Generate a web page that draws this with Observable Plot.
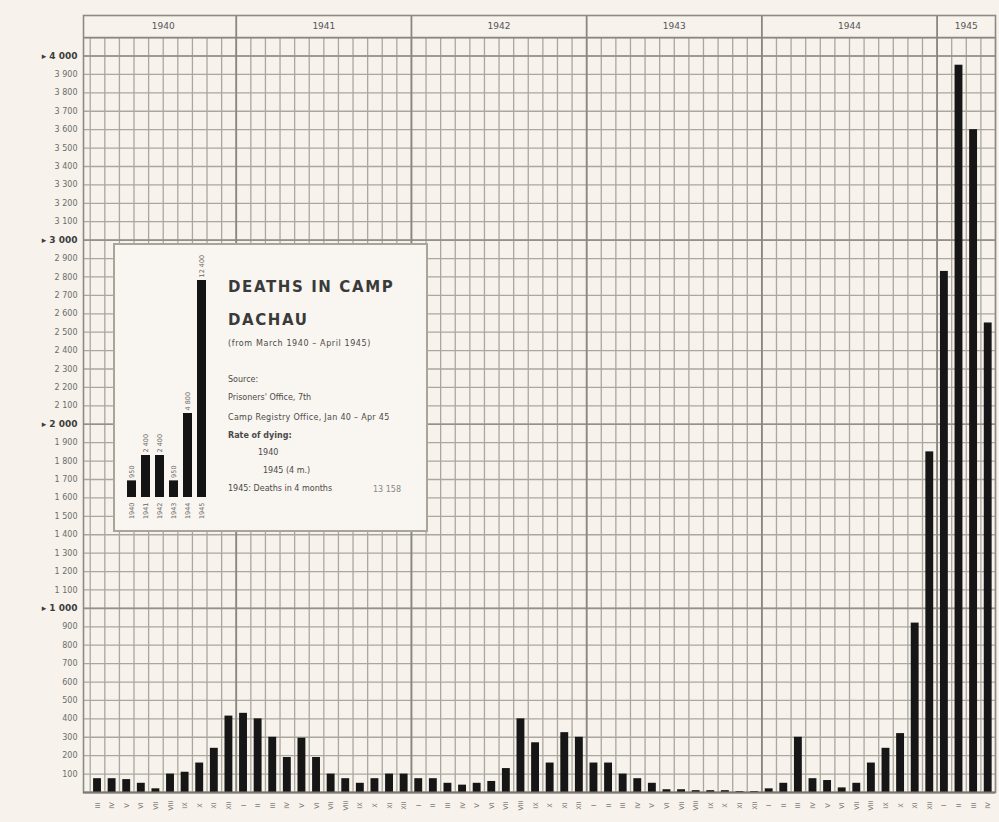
<!DOCTYPE html>
<html><head><meta charset="utf-8">
<script src="https://cdn.jsdelivr.net/npm/d3@7"></script>
<script src="https://cdn.jsdelivr.net/npm/@observablehq/plot@0.6"></script>
<style>
body{margin:0;background:#f7f2ec;font-family:"DejaVu Sans",sans-serif;}
#wrap{position:relative;width:999px;height:822px;overflow:hidden;}
#inset{position:absolute;left:113px;top:243px;width:311px;height:285px;border:2px solid #a9a59d;background:#f9f5f0;}
#mini{position:absolute;left:0;top:0;}
.ln{position:absolute;white-space:nowrap;line-height:1;color:#4a4a48;}
.big{font-weight:bold;font-size:15px;letter-spacing:1.6px;color:#3a3a3a;}
.sm{font-size:8px;}
</style></head><body>
<div id="wrap">
  <div id="main"></div>
  <div id="inset">
    <div id="mini"></div>
    <div class="ln big" style="left:113px;top:35px">DEATHS IN CAMP</div>
    <div class="ln big" style="left:113px;top:68px">DACHAU</div>
    <div class="ln sm" style="left:113px;top:95px;letter-spacing:0.6px">(from March 1940 – April 1945)</div>
    <div class="ln sm" style="left:113px;top:131px">Source:</div>
    <div class="ln sm" style="left:113px;top:149px">Prisoners' Office, 7th</div>
    <div class="ln sm" style="left:113px;top:169px;letter-spacing:0.3px">Camp Registry Office, Jan 40 – Apr 45</div>
    <div class="ln sm" style="left:113px;top:187px;font-weight:bold">Rate of dying:</div>
    <div class="ln sm" style="left:143px;top:204px">1940</div>
    <div class="ln sm" style="left:148px;top:222px">1945 (4 m.)</div>
    <div class="ln sm" style="left:113px;top:240px">1945: Deaths in 4 months</div>
    <div class="ln sm" style="left:258px;top:241px;color:#888">13 158</div>
  </div>
</div>
<script>
// Monthly deaths, March 1940 – April 1945
const monthLabels = [
  "III","IV","V","VI","VII","VIII","IX","X","XI","XII",
  "I","II","III","IV","V","VI","VII","VIII","IX","X","XI","XII",
  "I","II","III","IV","V","VI","VII","VIII","IX","X","XI","XII",
  "I","II","III","IV","V","VI","VII","VIII","IX","X","XI","XII",
  "I","II","III","IV","V","VI","VII","VIII","IX","X","XI","XII",
  "I","II","III","IV"
];
const deaths = [
  75,75,70,50,20,100,110,160,240,415,
  430,400,300,190,295,190,100,75,50,75,100,100,
  75,75,50,40,50,60,130,400,270,160,325,300,
  160,160,100,75,50,15,15,10,10,10,5,5,
  20,50,300,75,65,25,50,160,240,320,920,1850,
  2830,3950,3600,2550
];
const years = ["1940","1941","1942","1943","1944","1945"];
const yearFirstMonth = [0,10,22,34,46,58];
const yearLastMonth = [9,21,33,45,57,61];
const yearTotals = [950,2400,2400,950,4800,12400];
const yTicks = d3.range(100, 4001, 100);
const majorTicks = [1000,2000,3000,4000];

const data = deaths.map((d,i)=>({i, d, m: monthLabels[i]}));
const fmt = v => d3.format(",")(v).replace(",", " ");
const gridC = "#aaa79e";

const main = Plot.plot({
  width: 999, height: 822,
  marginLeft: 83, marginRight: 4, marginTop: 15, marginBottom: 30,
  x: {domain: [-0.96, 61.5], axis: null},
  y: {domain: [0, 4220], axis: null},
  style: {background: "#f7f2ec", fontFamily: "DejaVu Sans, sans-serif"},
  marks: [
    Plot.ruleX(d3.range(-0.5, 61.6, 1), {y1: 0, y2: 4100, stroke: gridC, strokeWidth: 1.3}),
    Plot.ruleY(d3.range(0, 4101, 100), {stroke: gridC, strokeWidth: 1.3}),
    Plot.ruleY(majorTicks, {stroke: "#94918a", strokeWidth: 1.6}),
    Plot.ruleY([4100], {stroke: "#8a8780", strokeWidth: 1.8}),
    Plot.ruleX(yearFirstMonth.slice(1), {x: d => d - 0.5, y1: 0, y2: 4220, stroke: "#8a8780", strokeWidth: 1.8}),
    Plot.frame({stroke: "#8e8b84", strokeWidth: 1.6}),
    Plot.rectY(data, {x1: d => d.i - 0.27, x2: d => d.i + 0.27, y: "d", fill: "#161616"}),
    Plot.ruleY([0], {stroke: "#7d7a74", strokeWidth: 1.8}),
    Plot.text(years, {x: (d,k) => (yearFirstMonth[k] + yearLastMonth[k]) / 2, y: 4160, text: d => d, fontSize: 9, fill: "#555"}),
    Plot.axisY(yTicks.filter(t => !majorTicks.includes(t)), {anchor: "left", label: null, tickSize: 0, tickPadding: 6, fontSize: 8, fill: "#6d6c67", tickFormat: fmt}),
    Plot.axisY(majorTicks, {anchor: "left", label: null, tickSize: 0, tickPadding: 6, fontSize: 9, fontWeight: "bold", fill: "#3d3d3a", tickFormat: v => "▸ " + fmt(v)}),
    Plot.text(data, {x: "i", y: 0, text: "m", rotate: -90, dy: 13, fontSize: 6.5, fill: "#6d6c67"})
  ]
});
document.getElementById("main").appendChild(main);

const yearData = years.map((y,k)=>({y, v: yearTotals[k]}));
const mini = Plot.plot({
  width: 100, height: 285,
  marginLeft: 5, marginRight: 3, marginTop: 8, marginBottom: 33,
  x: {domain: years, padding: 0.36, axis: null},
  y: {domain: [0, 13943], axis: null},
  style: {background: "transparent", fontFamily: "DejaVu Sans, sans-serif"},
  marks: [
    Plot.barY(yearData, {x: "y", y: "v", fill: "#141414"}),
    Plot.text(yearData, {x: "y", y: "v", text: d => fmt(d.v), rotate: -90, textAnchor: "start", dy: -3, fontSize: 6.5, fill: "#666"}),
    Plot.text(yearData, {x: "y", y: 0, text: "y", rotate: -90, textAnchor: "end", dy: 5, fontSize: 6.5, fill: "#666"})
  ]
});
document.getElementById("mini").appendChild(mini);
</script>
</body></html>
